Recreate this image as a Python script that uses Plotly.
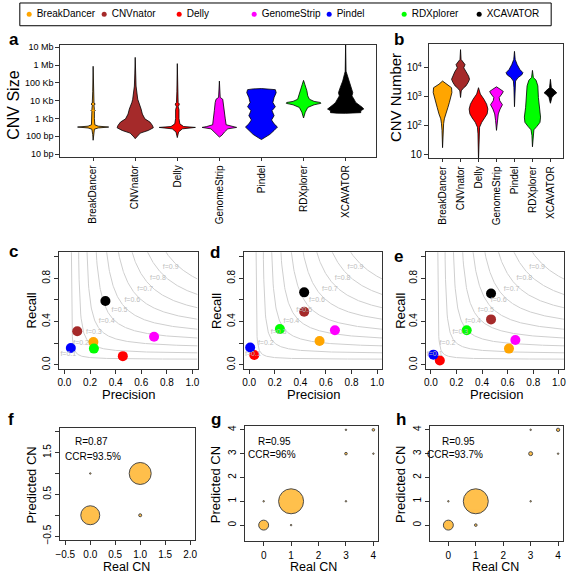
import numpy as np
import plotly.graph_objects as go

W, H = 567, 575
FONT = "Liberation Sans, Arial, sans-serif"

# ---------------- data ----------------
tools = ["BreakDancer", "CNVnator", "Delly", "GenomeStrip", "Pindel", "RDXplorer", "XCAVATOR"]
tool_colors = ["#FFA500", "#A52A2A", "#FF0000", "#FF00FF", "#0000FF", "#00FF00", "#000000"]

# panel a: CNV size distribution profiles (log10 bp, relative half-width)
size_breakdancer = [(1.78, 0), (2.1, 0.01), (2.4, 0.03), (2.47, 0.12), (2.52, 0.37), (2.57, 0.12), (2.65, 0.04),
                    (3.0, 0.03), (3.4, 0.03), (3.45, 0.05), (3.5, 0.03), (3.75, 0.02), (3.81, 0.05), (3.87, 0.02),
                    (4.5, 0.01), (5.93, 0)]
size_cnvnator = [(1.87, 0), (1.96, 0.03), (2.18, 0.12), (2.33, 0.31), (2.48, 0.43), (2.61, 0.41), (2.8, 0.35),
                 (2.98, 0.23), (3.25, 0.17), (3.53, 0.14), (3.9, 0.08), (4.08, 0.06), (4.82, 0.02), (5.5, 0.01),
                 (6.43, 0)]
size_delly = [(1.93, 0), (2.24, 0.03), (2.42, 0.12), (2.5, 0.43), (2.55, 0.15), (2.7, 0.06), (3.0, 0.04),
              (3.5, 0.04), (3.66, 0.02), (3.81, 0.05), (3.9, 0.02), (4.5, 0.01), (6.08, 0)]
size_genomestrip = [(1.96, 0), (2.06, 0.06), (2.24, 0.12), (2.42, 0.2), (2.5, 0.41), (2.55, 0.3), (2.65, 0.16),
                    (2.98, 0.14), (3.44, 0.12), (3.9, 0.1), (4.08, 0.08), (4.18, 0.02), (4.6, 0.01), (5.1, 0)]
size_pindel = [(1.82, 0), (1.93, 0.08), (2.11, 0.2), (2.33, 0.3), (2.52, 0.38), (2.7, 0.3), (2.92, 0.24),
               (3.16, 0.3), (3.44, 0.25), (3.66, 0.33), (3.9, 0.27), (4.18, 0.3), (4.45, 0.35), (4.62, 0.33),
               (4.66, 0.2), (4.68, 0)]
size_rdxplorer = [(3.03, 0), (3.35, 0.04), (3.62, 0.1), (3.77, 0.25), (3.85, 0.41), (3.9, 0.4), (3.96, 0.25),
                  (4.08, 0.14), (4.27, 0.1), (4.55, 0.08), (4.92, 0.03), (5.14, 0)]
size_xcavator = [(3.29, 0), (3.3, 0.2), (3.33, 0.36), (3.44, 0.36), (3.53, 0.43), (3.62, 0.4), (3.77, 0.3),
                 (3.9, 0.24), (4.08, 0.2), (4.27, 0.15), (4.45, 0.17), (4.73, 0.13), (5.1, 0.07), (5.47, 0.03),
                 (5.65, 0.01), (7.22, 0)]

# panel b: CNV number distribution profiles (log10 count, relative half-width)
num_breakdancer = [(1.23, 0), (1.83, 0.03), (2.06, 0.06), (2.23, 0.1), (2.4, 0.2), (2.63, 0.3), (2.8, 0.38),
                   (2.97, 0.46), (3.14, 0.52), (3.31, 0.5), (3.43, 0.2), (3.54, 0)]
num_cnvnator = [(2.97, 0), (3.2, 0.04), (3.29, 0.15), (3.37, 0.3), (3.49, 0.42), (3.6, 0.5), (3.71, 0.45),
                (3.86, 0.32), (4.0, 0.18), (4.11, 0.25), (4.29, 0.03), (4.63, 0)]
num_delly = [(0.8, 0), (1.71, 0.03), (1.94, 0.06), (2.11, 0.18), (2.26, 0.35), (2.4, 0.48), (2.57, 0.52),
             (2.74, 0.45), (2.91, 0.3), (3.09, 0.1), (3.31, 0)]
num_genomestrip = [(1.83, 0), (2.17, 0.05), (2.4, 0.1), (2.57, 0.2), (2.72, 0.33), (2.86, 0.18), (2.97, 0.15),
                   (3.09, 0.3), (3.18, 0.38), (3.26, 0.2), (3.34, 0)]
num_pindel = [(2.65, 0), (3.31, 0.03), (3.54, 0.06), (3.66, 0.2), (3.75, 0.4), (3.83, 0.47), (3.94, 0.3),
              (4.11, 0.15), (4.29, 0.04), (4.57, 0)]
num_rdxplorer = [(1.26, 0), (1.66, 0.03), (1.85, 0.08), (1.97, 0.25), (2.11, 0.42), (2.29, 0.45), (2.63, 0.38),
                 (2.97, 0.33), (3.37, 0.3), (3.57, 0.2), (3.66, 0.05), (3.91, 0)]
num_xcavator = [(2.77, 0), (2.86, 0.04), (2.97, 0.08), (3.06, 0.2), (3.13, 0.35), (3.2, 0.25), (3.31, 0.05),
                (3.6, 0)]

size_profiles = [size_breakdancer, size_cnvnator, size_delly, size_genomestrip, size_pindel, size_rdxplorer, size_xcavator]
num_profiles = [num_breakdancer, num_cnvnator, num_delly, num_genomestrip, num_pindel, num_rdxplorer, num_xcavator]

size_tickvals = [10, 100, 1e3, 1e4, 1e5, 1e6, 1e7]
size_ticktext = ["10 bp", "100 bp", "1 Kb", "10 Kb", "100 Kb", "1 Mb", "10 Mb"]
num_tickvals = [10, 100, 1e3, 1e4]
num_ticktext = ["10", "10<sup>2</sup>", "10<sup>3</sup>", "10<sup>4</sup>"]

# panels c, d, e: precision / recall per tool
precision_c = [0.226, 0.10, 0.456, 0.70, 0.05, 0.23, 0.32]
recall_c = [0.21, 0.31, 0.08, 0.26, 0.155, 0.15, 0.59]
precision_d = [0.55, 0.43, 0.04, 0.67, 0.008, 0.24, 0.43]
recall_d = [0.22, 0.49, 0.09, 0.32, 0.16, 0.33, 0.67]
precision_e = [0.61, 0.47, 0.07, 0.66, 0.02, 0.28, 0.47]
recall_e = [0.15, 0.42, 0.04, 0.23, 0.094, 0.32, 0.66]
f_levels = [0.1, 0.2, 0.3, 0.4, 0.5, 0.6, 0.7, 0.8, 0.9]

# panels f, g, h: real vs predicted copy number, number of calls
real_cn_f = [0, 1, 1, 0]
pred_cn_f = [0, 1, 0, 1]
calls_f = [160, 215, 4, 1]
real_cn_g = [0, 1, 0, 1, 3, 3, 4, 3, 4]
pred_cn_g = [0, 1, 1, 0, 1, 3, 3, 4, 4]
calls_g = [44, 278, 1, 1, 1, 3, 1, 1, 3]
real_cn_h = [0, 1, 0, 1, 3, 3, 4, 3, 4]
pred_cn_h = [0, 1, 1, 0, 1, 3, 3, 4, 4]
calls_h = [44, 278, 1, 3, 1, 7, 1, 1, 5]
stats_f = ["R=0.87", "CCR=93.5%"]
stats_g = ["R=0.95", "CCR=96%"]
stats_h = ["R=0.95", "CCR=93.7%"]


# ---------------- helpers ----------------
def xdom(p0, p1):
    return [p0 / W, min(p1 / W, 1.0)]


def ydom(top, bottom):
    return [1 - bottom / H, 1 - top / H]


def px(x):
    return x / W


def py(y):
    return 1 - y / H


fig = go.Figure()

TICKFONT = dict(size=10, color="black", family=FONT)
base_axis = dict(showline=True, linecolor="#333333", linewidth=1, mirror=True, ticks="outside", ticklen=4,
                 tickcolor="#333333", tickfont=TICKFONT, showgrid=False, zeroline=False, fixedrange=True)
MINOR = dict(ticks="outside", ticklen=4, tickcolor="#333333", showgrid=False)

layout = dict(width=W, height=H, margin=dict(l=0, r=0, t=0, b=0), paper_bgcolor="white", plot_bgcolor="white",
              showlegend=False, font=dict(family=FONT, color="black"))

# ---------- panel a ----------
for i, prof in enumerate(size_profiles):
    lv = [p[0] for p in prof]
    hw = [p[1] for p in prof]
    xs = [i + w for w in hw] + [i - w for w in hw[::-1]]
    ys = [10 ** v for v in lv] + [10 ** v for v in lv[::-1]]
    fig.add_trace(go.Scatter(x=xs, y=ys, mode="lines", fill="toself", fillcolor=tool_colors[i],
                             line=dict(color="black", width=0.8), xaxis="x", yaxis="y", hoverinfo="skip"))
layout["xaxis"] = dict(base_axis, domain=xdom(56, 376), range=[-0.78, 6.73], tickvals=list(range(7)),
                       ticktext=tools, tickangle=-90, ticklen=3, anchor="y")
layout["yaxis"] = dict(base_axis, domain=ydom(43, 157), type="log", range=[0.82, 7.15], tickvals=size_tickvals,
                       ticktext=size_ticktext, tickfont=dict(size=9, color="black", family=FONT), anchor="x")

# ---------- panel b ----------
for i, prof in enumerate(num_profiles):
    lv = [p[0] for p in prof]
    hw = [p[1] for p in prof]
    xs = [i + w for w in hw] + [i - w for w in hw[::-1]]
    ys = [10 ** v for v in lv] + [10 ** v for v in lv[::-1]]
    fig.add_trace(go.Scatter(x=xs, y=ys, mode="lines", fill="toself", fillcolor=tool_colors[i],
                             line=dict(color="black", width=0.8), xaxis="x2", yaxis="y2", hoverinfo="skip"))
layout["xaxis2"] = dict(base_axis, domain=xdom(429, 565), range=[-0.77, 6.7], tickvals=list(range(7)),
                        ticktext=tools, tickangle=-90, ticklen=3, anchor="y2")
layout["yaxis2"] = dict(base_axis, domain=ydom(42, 158), type="log", range=[0.86, 4.84], tickvals=num_tickvals,
                        ticktext=num_ticktext, anchor="x2")

# ---------- panels c, d, e ----------
pr_panels = [("x3", "y3", (55, 195), precision_c, recall_c),
             ("x4", "y4", (242, 382), precision_d, recall_d),
             ("x5", "y5", (426, 566), precision_e, recall_e)]
for xa, ya, (x0, x1), prec, rec in pr_panels:
    for f in f_levels:
        p = np.linspace(f / 2 + 0.002, 1.04, 300)
        r = f * p / (2 * p - f)
        fig.add_trace(go.Scatter(x=p, y=r, mode="lines", line=dict(color="#CFCFCF", width=1), xaxis=xa, yaxis=ya,
                                 hoverinfo="skip"))
    fig.add_trace(go.Scatter(x=prec, y=rec, mode="markers",
                             marker=dict(size=10, color=tool_colors, line=dict(width=0)), xaxis=xa, yaxis=ya))
    fig.add_trace(go.Scatter(x=[f - 0.07 for f in f_levels], y=f_levels, mode="text",
                             text=["f=%.1f" % f for f in f_levels], textfont=dict(size=7, color="#BDBDBD", family=FONT),
                             xaxis=xa, yaxis=ya, hoverinfo="skip"))
    n = xa[1:]
    layout["xaxis" + n] = dict(base_axis, domain=xdom(x0, x1), range=[-0.04, 1.04],
                               tickvals=[0, 0.2, 0.4, 0.6, 0.8, 1.0],
                               ticktext=["0.0", "0.2", "0.4", "0.6", "0.8", "1.0"], anchor=ya)
    layout["yaxis" + n] = dict(base_axis, domain=ydom(253, 371), range=[-0.04, 1.04],
                               tickvals=[0, 0.4, 0.8], ticktext=["0.0", "0.4", "0.8"],
                               minor=dict(MINOR, tickvals=[0.2, 0.6, 1.0]), tickangle=-90, anchor=xa)

# ---------- panels f, g, h ----------
k = 1.5  # px per sqrt(call)
cn_panels = [("x6", "y6", (56, 192.5), (430, 544), real_cn_f, pred_cn_f, calls_f),
             ("x7", "y7", (243, 378), (428, 545), real_cn_g, pred_cn_g, calls_g),
             ("x8", "y8", (430, 565), (428, 545), real_cn_h, pred_cn_h, calls_h)]
for xa, ya, (x0, x1), (y0, y1), rx, ry, nc in cn_panels:
    fig.add_trace(go.Scatter(x=rx, y=ry, mode="markers",
                             marker=dict(size=[k * np.sqrt(c) for c in nc], color="#FFA500",
                                         line=dict(color="black", width=1)),
                             xaxis=xa, yaxis=ya))
    n = xa[1:]
    if n == "6":
        layout["xaxis6"] = dict(base_axis, domain=xdom(x0, x1), range=[-0.6, 2.1],
                                tickvals=[-0.5, 0, 0.5, 1.0, 1.5, 2.0], ticklabelstandoff=1,
                                ticktext=["\u22120.5", "0.0", "0.5", "1.0", "1.5", "2.0"], anchor=ya)
        layout["yaxis6"] = dict(base_axis, domain=ydom(y0, y1), range=[-0.6, 2.1],
                                tickvals=[-0.5, 0.5, 1.5], ticktext=["\u22120.5", "0.5", "1.5"],
                                minor=dict(MINOR, tickvals=[0, 1.0, 2.0]), tickangle=-90, anchor=xa)
    else:
        layout["xaxis" + n] = dict(base_axis, domain=xdom(x0, x1), range=[-0.68, 4.18], ticklabelstandoff=1,
                                   tickvals=[0, 1, 2, 3, 4], ticktext=["0", "1", "2", "3", "4"], anchor=ya)
        layout["yaxis" + n] = dict(base_axis, domain=ydom(y0, y1), range=[-0.68, 4.18],
                                   tickvals=[0, 1, 2, 3, 4], ticktext=["0", "1", "2", "3", "4"], tickangle=-90,
                                   anchor=xa)

# ---------- legend (own hidden axis) ----------
fig.add_trace(go.Scatter(x=list(range(7)), y=[0.5] * 7, mode="markers",
                         marker=dict(size=5, color=tool_colors), xaxis="x9", yaxis="y9", cliponaxis=False))
fig.add_trace(go.Scatter(x=[i + 0.1 for i in range(7)], y=[0.5] * 7, mode="text", text=tools,
                         textposition="middle right", textfont=dict(size=10, color="black", family=FONT),
                         xaxis="x9", yaxis="y9", cliponaxis=False))
layout["xaxis9"] = dict(domain=xdom(15, 553), range=[-0.125, 6.96], visible=False, fixedrange=True, anchor="y9")
layout["yaxis9"] = dict(domain=ydom(1, 24), range=[0, 1], visible=False, fixedrange=True, anchor="x9")

shapes = [dict(type="rect", xref="x9 domain", yref="y9 domain", x0=0, x1=1, y0=0, y1=1,
               line=dict(color="black", width=1), fillcolor="rgba(0,0,0,0)")]

# ---------- annotations ----------
ann = []


def label(text, x, baseline, size=17):
    ann.append(dict(text="<b>%s</b>" % text, x=px(x), y=py(baseline - 0.3 * size), xref="paper", yref="paper",
                    xanchor="left", yanchor="middle", showarrow=False, font=dict(size=size, family=FONT)))


label("a", 2, 43)
label("b", 392, 43)
label("c", 2, 257)
label("d", 206, 258)
label("e", 392, 262)
label("f", 1, 427)
label("g", 207, 427)
label("h", 394, 427)


def title(text, x, y, angle=0, size=13):
    ann.append(dict(text=text, x=px(x), y=py(y), xref="paper", yref="paper", xanchor="center", yanchor="middle",
                    textangle=angle, showarrow=False, font=dict(size=size, family=FONT)))


title("CNV Size", 9, 104, -90, 16)
title("CNV Number", 396, 97, -90, 15)
for cx, px_ in [(27, 125), (214, 312), (401, 498)]:
    title("Recall", cx, 312, -90)
    title("Precision", px_, 397)
for cx, px_ in [(27, 123), (214, 312), (401, 497)]:
    title("Predicted CN", cx, 488, -90)
    title("Real CN", px_, 571, 0, 12.5)

for xa, ya, st, pos in [("x6", "y6", stats_f, [(0.03, 1.76), (0.06, 1.41)]),
                        ("x7", "y7", stats_g, [(0.39, 3.51), (0.3, 2.98)]),
                        ("x8", "y8", stats_h, [(0.36, 3.51), (0.25, 2.98)])]:
    for t, (xx, yy) in zip(st, pos):
        ann.append(dict(text=t, x=xx, y=yy, xref=xa, yref=ya, showarrow=False, xanchor="center",
                        yanchor="middle", font=dict(size=10, family=FONT)))

layout["annotations"] = ann
layout["shapes"] = shapes
fig.update_layout(**layout)
fig.write_html("out.html", config={"displayModeBar": False},
               post_script="document.body.style.margin='0';document.body.style.overflow='hidden';")
